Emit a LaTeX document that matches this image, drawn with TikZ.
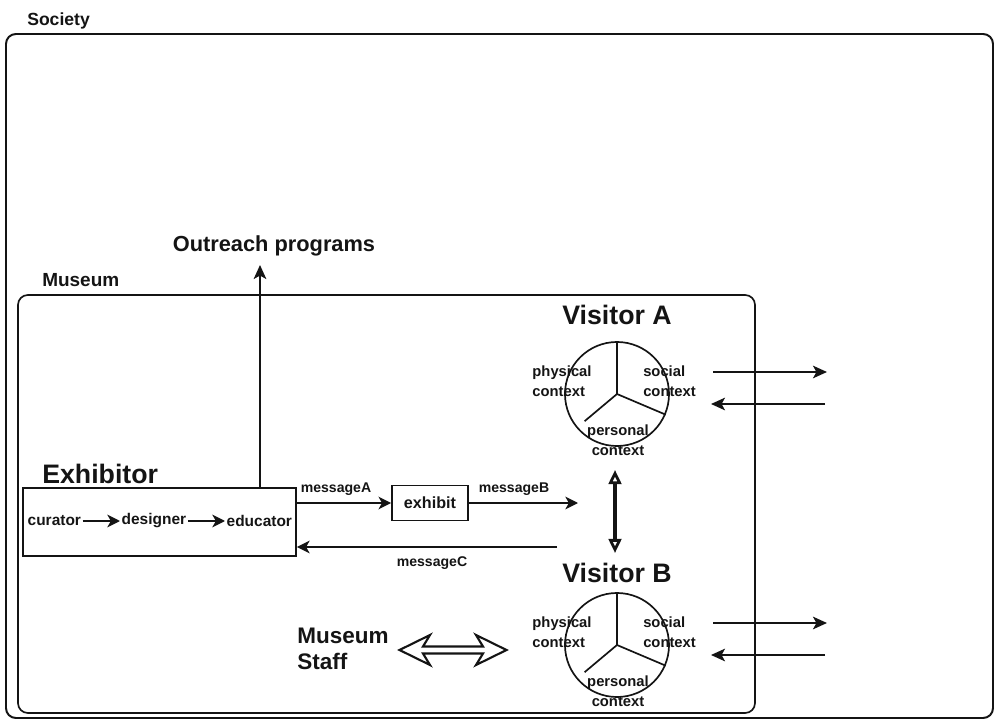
\documentclass[tikz,border=0pt]{standalone}
\usepackage{fontspec}
\setmainfont{Liberation Sans}
\usetikzlibrary{arrows.meta, positioning, calc}
\definecolor{inkblack}{HTML}{141414}
\newcommand{\txtsize}[2]{\fontsize{#1}{#2}\selectfont}

\tikzset{
  every node/.style={text=inkblack},
  bigtitle/.style={font=\bfseries\txtsize{19pt}{22pt}, inner sep=0pt},
  midtitle/.style={font=\bfseries\txtsize{15.5pt}{18.5pt}, inner sep=0pt},
  frame/.style={draw=inkblack, line width=1.4pt, rounded corners=7pt},
  plainbox/.style={draw=inkblack, line width=1.2pt, inner sep=0pt},
  unit/.style={font=\bfseries\txtsize{11pt}{13pt}, inner sep=1pt},
  msg/.style={font=\bfseries\txtsize{10pt}{12pt}, inner sep=0pt},
  ctx/.style={font=\bfseries\txtsize{10.5pt}{14pt}, inner sep=0pt},
  spoke/.style={draw=inkblack, line width=1.2pt},
  flow/.style={draw=inkblack, line width=1.2pt, -{Stealth[length=9pt,width=9pt,inset=2.5pt]}},
  sideflow/.style={flow, -{Stealth[length=10pt,width=9pt,inset=2.5pt]}},
}

\begin{document}
\begin{tikzpicture}[x=0.025cm, y=-0.025cm]
  \useasboundingbox (0,0) rectangle (994,721);

  % Society and Museum frames
  \draw[frame] (6,34) rectangle (993,718);
  \node[font=\bfseries\txtsize{12.5pt}{15pt}, inner sep=0pt, anchor=base west] (society) at (27,26) {Society};
  \draw[frame, line width=1.2pt] (18,295) rectangle (755,713);
  \node[font=\bfseries\txtsize{13.5pt}{16pt}, inner sep=0pt, anchor=base west] (museum) at (42,287) {Museum};

  % Exhibitor
  \node[bigtitle, anchor=base west] (exhtitle) at (42,483) {Exhibitor};
  \node[plainbox, minimum width=6.83cm, minimum height=1.7cm] (exhibitor) at (159.5,522) {};
  \node[unit, anchor=west] (curator) at (26,521) {curator};
  \node[unit, anchor=west] (designer) at (120,521) {designer};
  \node[unit, anchor=west] (educator) at (225,521) {educator};
  \draw[flow] (curator) -- (designer);
  \draw[flow] (designer) -- (educator);

  % Outreach
  \node[midtitle, anchor=base] (outreach) at (274,252) {Outreach programs};
  \coordinate (outtip) at (260,265);
  \draw[flow, -{Stealth[length=10pt,width=9pt,inset=2.5pt]}] (exhibitor.north -| outtip) -- (outtip);

  % messages
  \node[plainbox, minimum width=1.9cm, minimum height=0.875cm,
        font=\bfseries\txtsize{11.5pt}{13pt}] (exhibit) at (430,503) {exhibit};
  \draw[flow] (exhibitor.east |- exhibit) -- (exhibit);
  \node[msg, anchor=base] (msgA) at (336,492) {messageA};
  \coordinate (mBtip) at (578,503);
  \draw[flow] (exhibit) -- (mBtip);
  \node[msg, anchor=base] (msgB) at (514,492) {messageB};
  \coordinate (mCtail) at (557,547);
  \draw[flow] (mCtail) -- (exhibitor.east |- mCtail);
  \node[msg, anchor=base] (msgC) at (432,566) {messageC};

  % Visitors
  \foreach \v/\cy/\ty in {A/394/325, B/645/582} {
    \node[bigtitle, anchor=base] (vis\v) at (617,\ty) {Visitor \v};
    \node[circle, draw=inkblack, line width=1.2pt, minimum size=2.6cm, inner sep=0pt] (circ\v) at (617,\cy) {};
    \draw[spoke] (circ\v.90) -- (circ\v.center) -- (circ\v.-23);
    \draw[spoke] (circ\v.center) -- ($(circ\v.center)!0.8!(circ\v.220)$);
    \node[ctx, align=left] (phys\v) at ($(circ\v)+(-55,-13)$) {physical\\context};
    \node[ctx, align=left, anchor=west] (soc\v) at ($(circ\v)+(26,-13)$) {social\\context};
    \node[ctx, align=center] (pers\v) at ($(circ\v)+(1,46)$) {personal\\context};
    \coordinate (sendS\v) at (713,{\cy-22});
    \coordinate (sendE\v) at (827,{\cy-22});
    \coordinate (backS\v) at (825,{\cy+10});
    \coordinate (backE\v) at (711,{\cy+10});
    \draw[sideflow] (sendS\v) -- (sendE\v);
    \draw[sideflow] (backS\v) -- (backE\v);
  }

  % visitor to visitor
  \coordinate (exA) at (615,470);
  \coordinate (exB) at (615,553);
  \draw[draw=inkblack, line width=2.2pt,
        {Triangle[open,length=10pt,width=9pt,line width=2pt]}-{Triangle[open,length=10pt,width=9pt,line width=2pt]}]
        (exA) -- (exB);

  % Museum staff
  \node[font=\bfseries\txtsize{16pt}{18.5pt}, inner sep=0pt, align=left] (staff) at (343,649) {Museum\\Staff};
  \coordinate (staffarr) at (453,650);
  \draw[draw=inkblack, line width=1.5pt, fill=white, shift={(staffarr)}]
    (-53.5,0) -- (-23,-15) -- (-30,-3.5) -- (30,-3.5) -- (23,-15) -- (53.5,0)
    -- (23,15) -- (30,3.5) -- (-30,3.5) -- (-23,15) -- cycle;
\end{tikzpicture}
\end{document}
